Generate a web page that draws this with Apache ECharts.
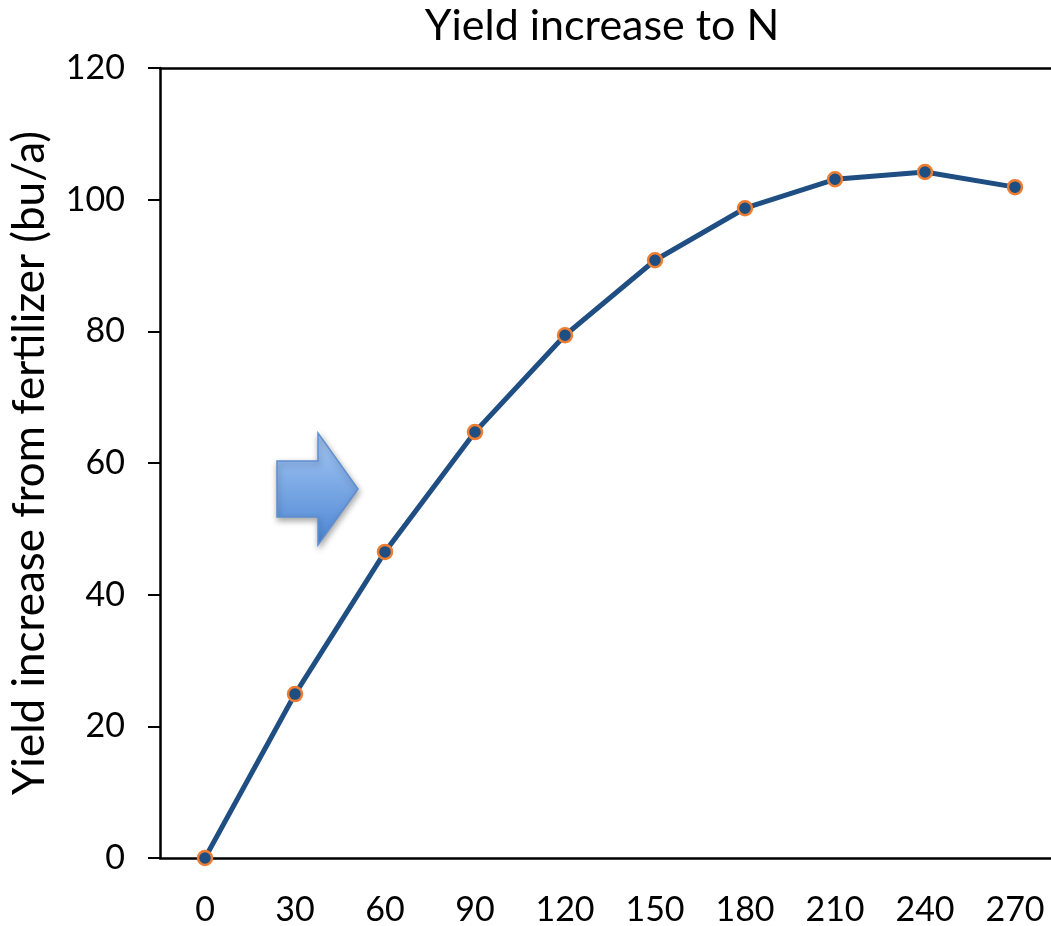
<!DOCTYPE html>
<html>
<head>
<meta charset="utf-8">
<script src="https://cdn.jsdelivr.net/npm/echarts@6/dist/echarts.min.js"></script>
<style>html,body{margin:0;padding:0;background:#fff;}#c{width:1051px;height:926px;}</style>
</head>
<body>
<div id="c"></div>
<script>
const categories = ['0','30','60','90','120','150','180','210','240','270'];
const yieldIncrease = [0, 24.9, 46.5, 64.7, 79.4, 90.8, 98.7, 103.1, 104.2, 101.9];
const titleText = 'Yield increase to N';
const yAxisName = 'Yield increase from fertilizer (bu/a)';

const FONT = 'Lato, "Open Sans", sans-serif';
const chart = echarts.init(document.getElementById('c'), null, {renderer: 'canvas'});
chart.setOption({
  backgroundColor: '#ffffff',
  animation: false,
  title: {
    text: titleText, left: 597, top: 0, textAlign: 'center',
    textStyle: {fontFamily: FONT, fontSize: 43, fontWeight: 'normal', color: '#000'}
  },
  grid: {left: 160, width: 900, top: 68, bottom: 68, containLabel: false, outerBoundsMode: 'none'},
  xAxis: [{
    type: 'category', data: categories, boundaryGap: true,
    axisLine: {lineStyle: {color: '#000', width: 2.5}},
    axisTick: {show: false},
    axisLabel: {fontFamily: FONT, fontSize: 34, color: '#000', margin: 35},
    splitLine: {show: false}
  }, {
    type: 'category', data: categories, position: 'top',
    axisLine: {show: true, lineStyle: {color: '#000', width: 2.5}},
    axisTick: {show: false}, axisLabel: {show: false}
  }],
  yAxis: {
    type: 'value', min: 0, max: 120, interval: 20,
    name: yAxisName, nameLocation: 'middle', nameGap: 108, nameRotate: 90,
    nameTextStyle: {fontFamily: FONT, fontSize: 44, color: '#000'},
    axisLine: {show: true, lineStyle: {color: '#000', width: 2.5}},
    axisTick: {show: true, length: 12, lineStyle: {color: '#000', width: 2}},
    axisLabel: {fontFamily: FONT, fontSize: 34, color: '#000', margin: 35},
    splitLine: {show: false}
  },
  series: [{
    type: 'line', data: yieldIncrease, xAxisIndex: 0,
    lineStyle: {color: '#1F4E82', width: 5},
    symbol: 'circle', symbolSize: 14,
    itemStyle: {color: '#1F4E82', borderColor: '#ED7D31', borderWidth: 2.5},
    z: 5
  }],
  graphic: [{
    type: 'polygon',
    shape: {points: [[277,461],[318,461],[318,433],[358,489],[318,545],[318,517],[277,517]]},
    style: {
      fill: new echarts.graphic.LinearGradient(0,0,0,1,[
        {offset: 0, color: '#A6C8F4'}, {offset: 1, color: '#4C86D4'}]),
      stroke: '#5E8FD0', lineWidth: 1.5,
      shadowBlur: 6, shadowColor: 'rgba(0,0,0,0.35)', shadowOffsetX: 1, shadowOffsetY: 3
    },
    z: 10
  }]
});
</script>
</body>
</html>
